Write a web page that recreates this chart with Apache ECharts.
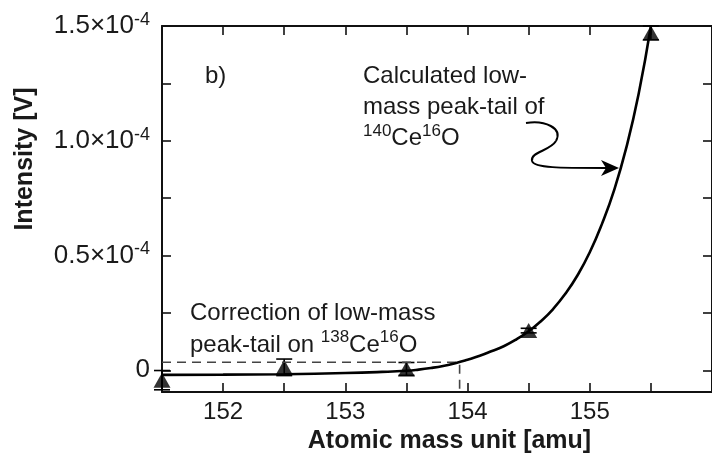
<!DOCTYPE html>
<html>
<head>
<meta charset="utf-8">
<script src="https://cdn.jsdelivr.net/npm/echarts@6/dist/echarts.min.js"></script>
<style>
html,body{margin:0;padding:0;background:#fff;}
#chart{width:712px;height:459px;}
</style>
</head>
<body>
<div id="chart"></div>
<script>
// ---- data (intensity in units of 1e-4 V) ----
const massTicks = [151.5, 152, 152.5, 153, 153.5, 154, 154.5, 155, 155.5];
const massLabels = [152, 153, 154, 155];
const intensityTicks = [0, 0.25, 0.5, 0.75, 1.0, 1.25, 1.5];
const intensityLabels = [0, 0.5, 1.0, 1.5];

const pointMass = [151.5, 152.5, 153.5, 154.5, 155.5];
const pointIntensity = [-0.043, 0.013, 0.006, 0.173, 1.47];
const pointError = [0.042, 0.036, 0.028, 0.01, 0.03];

const curveMass = [151.5, 152.0, 152.5, 153.0, 153.3, 153.5, 153.6, 153.7, 153.8, 153.9, 154.0, 154.1, 154.2, 154.3, 154.4, 154.5, 154.6, 154.7, 154.8, 154.9, 155.0, 155.1, 155.2, 155.3, 155.4, 155.5];
const curveIntensity = [-0.020, -0.019, -0.017, -0.012, -0.007, -0.002, 0.003, 0.010, 0.019, 0.031, 0.046, 0.063, 0.084, 0.106, 0.135, 0.170, 0.214, 0.267, 0.333, 0.414, 0.514, 0.638, 0.786, 0.972, 1.205, 1.50];

const correctionMass = [151.5, 153.935, 153.935];
const correctionIntensity = [0.035, 0.035, -0.095];

const FONT = '"Liberation Sans", Arial, sans-serif';
const TXT = '#1a1a1a';

const chart = echarts.init(document.getElementById('chart'), null, {renderer: 'canvas'});

const axisLineStyle = {color: '#111', width: 2};
const tickStyle = {color: '#111', width: 1.6};

const supRich = {
  a: {fontSize: 26, lineHeight: 30, fontFamily: FONT, color: TXT},
  s: {fontSize: 18, lineHeight: 13, verticalAlign: 'top', fontFamily: FONT, color: TXT}
};

const arrowStyle = {stroke: '#000', lineWidth: 2, fill: null};

const option = {
  backgroundColor: '#fff',
  animation: false,
  grid: {left: 162, right: -3, top: 26, bottom: 64, containLabel: false},
  xAxis: [
    {
      type: 'value', position: 'bottom', min: 151.5, max: 156,
      name: 'Atomic mass unit [amu]', nameLocation: 'middle', nameGap: 33,
      nameTextStyle: {fontSize: 25, fontWeight: 'bold', fontFamily: FONT, color: TXT, padding: [0, 0, 0, 25]},
      axisLine: {show: true, onZero: false, lineStyle: axisLineStyle},
      axisTick: {show: true, inside: true, length: 9, customValues: massTicks, lineStyle: tickStyle},
      axisLabel: {customValues: massLabels, fontSize: 24, fontFamily: FONT, color: TXT, margin: 8},
      splitLine: {show: false}
    },
    {
      type: 'value', position: 'top', min: 151.5, max: 156,
      axisLine: {show: true, onZero: false, lineStyle: axisLineStyle},
      axisTick: {show: true, inside: true, length: 9, customValues: massTicks, lineStyle: tickStyle},
      axisLabel: {show: false},
      splitLine: {show: false}
    }
  ],
  yAxis: [
    {
      type: 'value', position: 'left', min: -0.095, max: 1.5,
      name: 'Intensity [V]', nameLocation: 'middle', nameGap: 124, nameRotate: 90,
      nameTextStyle: {fontSize: 25, fontWeight: 'bold', fontFamily: FONT, color: TXT, padding: [0, 0, 0, 100]},
      axisLine: {show: true, onZero: false, lineStyle: axisLineStyle},
      axisTick: {show: true, inside: true, length: 9, customValues: intensityTicks, lineStyle: tickStyle},
      axisLabel: {
        customValues: intensityLabels, margin: 12,
        formatter: function (v) {
          if (Math.abs(v) < 1e-9) return '{a|0}';
          return '{a|' + v.toFixed(1) + '×10}{s|-4}';
        },
        rich: supRich
      },
      splitLine: {show: false}
    },
    {
      type: 'value', position: 'right', min: -0.095, max: 1.5,
      axisLine: {show: true, onZero: false, lineStyle: axisLineStyle},
      axisTick: {show: true, inside: true, length: 9, customValues: intensityTicks, lineStyle: tickStyle},
      axisLabel: {show: false},
      splitLine: {show: false}
    }
  ],
  series: [
    {
      type: 'line', name: 'correction', xAxisIndex: 0, yAxisIndex: 0,
      data: correctionMass.map((m, i) => [m, correctionIntensity[i]]),
      symbol: 'none', silent: true, clip: false,
      lineStyle: {color: '#444', width: 1.6, type: [9, 6]}
    },
    {
      type: 'line', name: 'fit', xAxisIndex: 0, yAxisIndex: 0,
      data: curveMass.map((m, i) => [m, curveIntensity[i]]),
      symbol: 'none', smooth: 0.5, clip: false,
      lineStyle: {color: '#000', width: 2.6}
    },
    {
      type: 'custom', name: 'errors', xAxisIndex: 0, yAxisIndex: 0, clip: false,
      data: pointMass.map((m, i) => [m, pointIntensity[i], pointError[i]]),
      renderItem: function (params, api) {
        const x = api.value(0), y = api.value(1), e = api.value(2);
        const t = api.coord([x, y + e]);
        const b = api.coord([x, y - e]);
        const hw = 8;
        const st = {stroke: '#000', lineWidth: 1.6};
        return {
          type: 'group', children: [
            {type: 'line', shape: {x1: t[0], y1: t[1], x2: b[0], y2: b[1]}, style: st},
            {type: 'line', shape: {x1: t[0] - hw, y1: t[1], x2: t[0] + hw, y2: t[1]}, style: st},
            {type: 'line', shape: {x1: b[0] - hw, y1: b[1], x2: b[0] + hw, y2: b[1]}, style: st}
          ]
        };
      }
    },
    {
      type: 'scatter', name: 'measured', xAxisIndex: 0, yAxisIndex: 0, clip: false,
      data: pointMass.map((m, i) => [m, pointIntensity[i]]),
      symbol: 'triangle', symbolSize: [17, 15],
      itemStyle: {color: '#000'}
    }
  ],
  graphic: [
    {
      type: 'text', x: 205, y: 64,
      style: {text: 'b)', fontSize: 24, fontFamily: FONT, fill: TXT}
    },
    {
      type: 'text', x: 363, y: 61,
      style: {
        text: 'Calculated low-\nmass peak-tail of\n{s|140}Ce{s|16}O',
        fontSize: 24, fontFamily: FONT, fill: TXT, lineHeight: 31,
        rich: {s: {fontSize: 17, lineHeight: 13, verticalAlign: 'top', fontFamily: FONT, fill: TXT}}
      }
    },
    {
      type: 'text', x: 190, y: 297,
      style: {
        text: 'Correction of low-mass\npeak-tail on {s|138}Ce{s|16}O',
        fontSize: 24, fontFamily: FONT, fill: TXT, lineHeight: 32,
        rich: {s: {fontSize: 17, lineHeight: 13, verticalAlign: 'top', fontFamily: FONT, fill: TXT}}
      }
    },
    {
      type: 'bezierCurve',
      shape: {x1: 526, y1: 123, cpx1: 545, cpy1: 120, cpx2: 563, cpy2: 128, x2: 556, y2: 141},
      style: arrowStyle
    },
    {
      type: 'bezierCurve',
      shape: {x1: 556, y1: 141, cpx1: 550, cpy1: 151, cpx2: 530, cpy2: 152, x2: 532, y2: 161},
      style: arrowStyle
    },
    {
      type: 'bezierCurve',
      shape: {x1: 532, y1: 161, cpx1: 534, cpy1: 168, cpx2: 560, cpy2: 168, x2: 606, y2: 168},
      style: arrowStyle
    },
    {
      type: 'polygon',
      shape: {points: [[619, 168], [601, 160], [606, 168], [601, 176]]},
      style: {fill: '#000'}
    }
  ]
};

chart.setOption(option);
</script>
</body>
</html>
